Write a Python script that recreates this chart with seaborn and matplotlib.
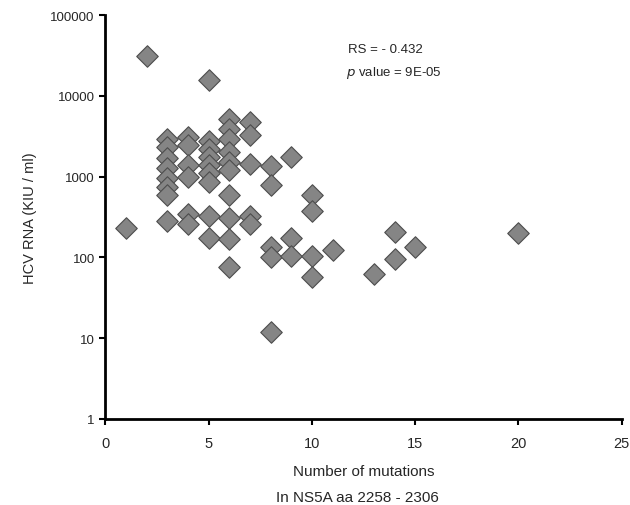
import matplotlib
matplotlib.use('Agg')
import matplotlib.pyplot as plt
import matplotlib.ticker as mticker
import pandas as pd
import seaborn as sns

# values, one entry per patient
mutations = [1, 2,
             3, 3, 3, 3, 3, 3, 3, 3,
             4, 4, 4, 4, 4, 4,
             5, 5, 5, 5, 5, 5, 5, 5, 5,
             6, 6, 6, 6, 6, 6, 6, 6, 6, 6,
             7, 7, 7, 7, 7,
             8, 8, 8, 8, 8,
             9, 9, 9,
             10, 10, 10, 10,
             11, 13, 14, 14, 15, 20]
hcv_rna = [233, 31500,
           2900, 2300, 1700, 1300, 960, 740, 590, 280,
           3100, 2500, 1400, 1000, 350, 260,
           15600, 2750, 2200, 1750, 1400, 1100, 850, 330, 175,
           5200, 3900, 2900, 2050, 1500, 1200, 590, 310, 170, 76,
           4700, 3300, 1450, 330, 260,
           1350, 790, 135, 100, 12,
           1750, 175, 105,
           600, 380, 105, 57,
           125, 63, 205, 95, 135, 200]

y_ticks = [1, 10, 100, 1000, 10000, 100000]
x_ticks = [0, 5, 10, 15, 20, 25]

df = pd.DataFrame({'mutations': mutations, 'rna': hcv_rna})

sns.set_style('white')
plt.rcParams['font.family'] = ['Liberation Sans', 'DejaVu Sans']

fig = plt.figure(figsize=(6.3, 5.06), dpi=100)
ax = fig.add_axes([0.167, 0.17, 0.82, 0.798])

sns.scatterplot(data=df, x='mutations', y='rna', marker='D', s=120,
                color='#858585', edgecolor='#4d4d4d', linewidth=0.8, ax=ax)

ax.set_yscale('log')
ax.set_ylim(1, 100000)
ax.set_xlim(0, 25)
ax.set_yticks(y_ticks)
ax.yaxis.set_major_formatter(mticker.FuncFormatter(lambda v, p: f'{int(round(v))}'))
ax.yaxis.set_minor_locator(mticker.NullLocator())
ax.set_xticks(x_ticks)

for side in ['top', 'right']:
    ax.spines[side].set_visible(False)
for side in ['left', 'bottom']:
    ax.spines[side].set_color('black')
    ax.spines[side].set_linewidth(2)

ax.tick_params(axis='both', direction='out', length=4, width=1.5, color='black',
               labelsize=9.5, left=True, bottom=True)
ax.tick_params(axis='x', labelsize=10.5, pad=8)

ax.set_xlabel('Number of mutations', fontsize=11, labelpad=10)
ax.set_ylabel('HCV RNA (KIU / ml)', fontsize=10.5, labelpad=10)
fig.text(0.568, 0.008, 'In NS5A aa 2258 - 2306', ha='center', fontsize=11)

ax.text(0.47, 0.916, 'RS = - 0.432', transform=ax.transAxes, fontsize=9.5, va='center')
ax.text(0.466, 0.859, '$\\it{p}$ value = 9E-05', transform=ax.transAxes, fontsize=9.5,
        va='center')

fig.savefig('out.png', dpi=100)
